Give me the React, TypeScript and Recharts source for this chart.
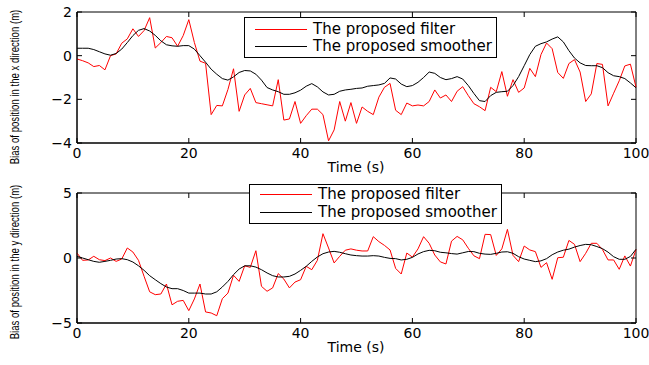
import React from 'react';
import { LineChart, Line, XAxis, YAxis, Legend, ReferenceArea } from 'recharts';

// time grid (s) and tick labels
const timeTicks = [0, 20, 40, 60, 80, 100];
const xBiasTicks = [-4, -2, 0, 2];
const yBiasTicks = [-5, 0, 5];
const seriesNames = ['The proposed filter', 'The proposed smoother'];

// bias in x direction (m)
const filterX = [
  -0.15, -0.23, -0.33, -0.5, -0.45, -0.65, 0, 0.08, 0.57, 0.77, 1.23, 0.88, 1.15, 1.74, 0.35, 0.6, 0.88, 0.82, 0.43, 0.92,
  1.65, 0.6, -0.25, -0.35, -2.7, -2.28, -2.3, -1.55, -0.6, -2.55, -1.8, -1.5, -2.15, -2.2, -2.25, -2.3, -1.1, -2.95, -2.9, -2.1,
  -3.1, -2.75, -2.45, -2.45, -2.7, -3.9, -3.4, -2.1, -3.0, -2.15, -3.1, -2.35, -2.55, -2.7, -1.9, -1.45, -1.27, -2.5, -2.7, -2.17,
  -2.3, -2.26, -2.3, -2.1, -1.57, -1.94, -1.8, -2.1, -1.63, -1.42, -1.83, -2.2, -2.34, -2.52, -1.45, -1.65, -0.73, -1.86, -1.1, -1.68,
  -1.48, -0.58, -0.96, 0.05, 0.58, 0.32, -0.77, -1.04, -0.36, -0.18, -0.75, -2.1, -1.75, -0.36, -0.4, -2.3, -1.72, -1.15, -0.47, -0.39,
  -1.44,
];
const smootherX = [
  0.34, 0.34, 0.34, 0.28, 0.18, 0.08, 0.02, 0.1, 0.3, 0.6, 0.92, 1.16, 1.24, 1.13, 0.93, 0.68, 0.5, 0.45, 0.43, 0.46,
  0.46, 0.3, 0.0, -0.3, -0.62, -0.85, -1.05, -1.12, -0.97, -0.77, -0.68, -0.7, -0.85, -1.12, -1.46, -1.57, -1.65, -1.77, -1.77, -1.7,
  -1.58, -1.4, -1.28, -1.43, -1.66, -1.8, -1.77, -1.63, -1.57, -1.54, -1.5, -1.48, -1.4, -1.37, -1.34, -1.27, -1.02, -1.07, -1.3, -1.42,
  -1.37, -1.22, -1.0, -0.75, -0.81, -1.0, -1.1, -1.05, -0.96, -1.07, -1.37, -1.73, -2.06, -2.1, -1.83, -1.68, -1.65, -1.63, -1.37, -0.96,
  -0.46, 0.05, 0.43, 0.55, 0.63, 0.76, 0.86, 0.63, 0.23, -0.11, -0.33, -0.45, -0.46, -0.46, -0.55, -0.78, -0.92, -0.96, -1.05, -1.25,
  -1.47,
];

// bias in y direction (m)
const filterY = [
  0.38, -0.18, -0.15, 0.13, -0.13, -0.2, 0, -0.26, -0.08, 0.77, 0.46, -0.18, -1.41, -2.6, -2.82, -2.77, -2.0, -3.6, -3.33, -3.26,
  -4.05, -3.15, -2.0, -4.15, -4.23, -4.44, -3.13, -2.7, -1.33, -1.8, -0.6, -0.72, 0.56, -2.18, -2.56, -2.3, -1.2, -1.62, -2.3, -1.85,
  -1.67, -0.64, -0.9, -0.18, 1.87, 0.77, -0.38, 0.13, 0.6, 0.7, 0.6, 0.54, 0.54, 1.64, 1.26, 0.97, 0.62, -0.8, -1.23, 0.38,
  0.07, 0.7, 1.64, 1.13, 0.23, -0.3, -0.46, 1.3, 1.66, 1.4, 0.75, 0.17, -0.05, 1.82, 1.8, 0.2, 0.7, 2.2, 0.2, -0.28,
  0.92, 0.62, 0.49, -0.72, -0.36, -1.64, 0.02, 0.06, 1.35, 1.05, -0.28, 0.36, 1.13, 1.13, 0.65, -0.15, -0.15, -0.87, 0.16, -0.62,
  0.65,
];
const smootherY = [
  0.13, 0, -0.13, -0.26, -0.33, -0.26, -0.18, -0.08, -0.05, -0.13, -0.31, -0.6, -0.95, -1.36, -1.67, -1.97, -2.23, -2.36, -2.36, -2.5,
  -2.7, -2.7, -2.7, -2.77, -2.77, -2.6, -2.23, -1.8, -1.28, -0.85, -0.6, -0.6, -0.7, -0.9, -1.15, -1.36, -1.46, -1.46, -1.41, -1.23,
  -0.95, -0.64, -0.26, 0.08, 0.33, 0.46, 0.51, 0.44, 0.33, 0.23, 0.18, 0.15, 0.15, 0.18, 0.15, 0.05, -0.03, -0.05, -0.15, -0.1,
  0.05, 0.31, 0.49, 0.59, 0.56, 0.44, 0.4, 0.34, 0.3, 0.4, 0.5, 0.49, 0.36, 0.3, 0.28, 0.36, 0.46, 0.48, 0.36, 0.1,
  -0.08, -0.18, -0.28, -0.22, -0.05, 0.25, 0.46, 0.6, 0.68, 0.84, 0.96, 1.05, 1.02, 0.88, 0.72, 0.45, 0.1, -0.1, -0.1, 0.12,
  0.67,
];

const time = filterX.map((_, i) => i);
const topData = time.map((t, i) => ({ t, filter: filterX[i], smoother: smootherX[i] }));
const bottomData = time.map((t, i) => ({ t, filter: filterY[i], smoother: smootherY[i] }));

const FONT = '"DejaVu Sans", sans-serif';
const W = 649;
const LEFT = 77;
const RIGHT = 636;
const TICK = 5;
const PLOT_BOTTOM = 143;

const fmt = (v: number) => String(v).replace('-', '\u2212');

const XTick = (props: any) => {
  const { x, payload, plotTop } = props;
  return (
    <g>
      <line x1={x} x2={x} y1={PLOT_BOTTOM} y2={PLOT_BOTTOM - TICK} stroke="#000" />
      <line x1={x} x2={x} y1={plotTop} y2={plotTop + TICK} stroke="#000" />
      <text x={x} y={PLOT_BOTTOM + 15} textAnchor="middle" fontFamily={FONT} fontSize={14} fill="#000">
        {payload.value}
      </text>
    </g>
  );
};

const YTick = (props: any) => {
  const { y, payload } = props;
  return (
    <g>
      <line x1={LEFT} x2={LEFT + TICK} y1={y} y2={y} stroke="#000" />
      <line x1={RIGHT} x2={RIGHT - TICK} y1={y} y2={y} stroke="#000" />
      <text x={LEFT - 5} y={y + 5} textAnchor="end" fontFamily={FONT} fontSize={14} fill="#000">
        {fmt(payload.value)}
      </text>
    </g>
  );
};

const TimeLabel = ({ baseline }: any) => (
  <text x={356} y={baseline} textAnchor="middle" fontFamily={FONT} fontSize={14} fill="#000">
    Time (s)
  </text>
);

// the source figure is stretched sideways, so the vertical captions read short
const SideLabel = ({ caption, mid }: any) => (
  <g transform={`translate(15 ${mid}) rotate(-90) scale(0.8 1)`}>
    <text
      x={0}
      y={0}
      textAnchor="middle"
      dominantBaseline="central"
      fontFamily='"Liberation Sans", Arial, sans-serif'
      fontSize={12}
      fill="#000"
    >
      {caption}
    </text>
  </g>
);

const LegendBox = ({ rows }: any) => (
  <div
    style={{
      width: 251,
      height: rows[1] + 11,
      border: '1px solid #000',
      background: '#fff',
      position: 'relative',
      fontFamily: FONT,
      fontSize: 15,
    }}
  >
    {seriesNames.map((name, i) => (
      <div key={name} style={{ position: 'absolute', left: 10, top: rows[i] - 9, height: 18, display: 'flex', alignItems: 'center' }}>
        <div style={{ width: 52, height: 1, background: i === 0 ? '#ff0000' : '#000' }} />
        <span style={{ marginLeft: 6, whiteSpace: 'nowrap', lineHeight: '18px' }}>{name}</span>
      </div>
    ))}
  </div>
);

const Panel = ({ data, domain, ticks, height, plotTop, caption, mid, legendPos, legendRows }: any) => (
  <LineChart
    width={W}
    height={height}
    data={data}
    margin={{ top: plotTop, right: W - RIGHT, bottom: height - PLOT_BOTTOM - 30, left: 0 }}
  >
    <XAxis
      dataKey="t"
      type="number"
      domain={[0, 100]}
      ticks={timeTicks}
      interval={0}
      height={30}
      axisLine={{ stroke: '#000' }}
      tickLine={false}
      tick={(p: any) => <XTick {...p} plotTop={plotTop} />}
      label={<TimeLabel baseline={PLOT_BOTTOM + 29} />}
    />
    <YAxis
      type="number"
      domain={domain}
      ticks={ticks}
      interval={0}
      width={LEFT}
      allowDataOverflow
      axisLine={{ stroke: '#000' }}
      tickLine={false}
      tick={(p: any) => <YTick {...p} />}
      label={<SideLabel caption={caption} mid={mid} />}
    />
    <ReferenceArea x1={0} x2={100} y1={domain[0]} y2={domain[1]} fill="none" stroke="#000" strokeWidth={1} fillOpacity={0} />
    <Line type="linear" dataKey="filter" stroke="#ff0000" strokeWidth={1} dot={false} isAnimationActive={false} />
    <Line type="linear" dataKey="smoother" stroke="#000" strokeWidth={1} dot={false} isAnimationActive={false} />
    <Legend
      layout="horizontal"
      verticalAlign="middle"
      align="center"
      wrapperStyle={{ left: legendPos[0], top: legendPos[1], width: 253 }}
      content={() => <LegendBox rows={legendRows} />}
    />
  </LineChart>
);

export default function App() {
  return (
    <div style={{ position: 'absolute', left: 0, top: 0, width: W, height: 365, background: '#fff' }}>
      <div style={{ position: 'absolute', left: 0, top: 0 }}>
        <Panel
          data={topData}
          domain={[-4, 2]}
          ticks={xBiasTicks}
          height={180}
          plotTop={12}
          caption="Bias of position in the x direction (m)"
          mid={87}
          legendPos={[244, 17]}
          legendRows={[11, 28]}
        />
      </div>
      <div style={{ position: 'absolute', left: 0, top: 180 }}>
        <Panel
          data={bottomData}
          domain={[-5, 5]}
          ticks={yBiasTicks}
          height={185}
          plotTop={13}
          caption="Bias of position in the y direction (m)"
          mid={82}
          legendPos={[249, 4]}
          legendRows={[9, 27]}
        />
      </div>
    </div>
  );
}
